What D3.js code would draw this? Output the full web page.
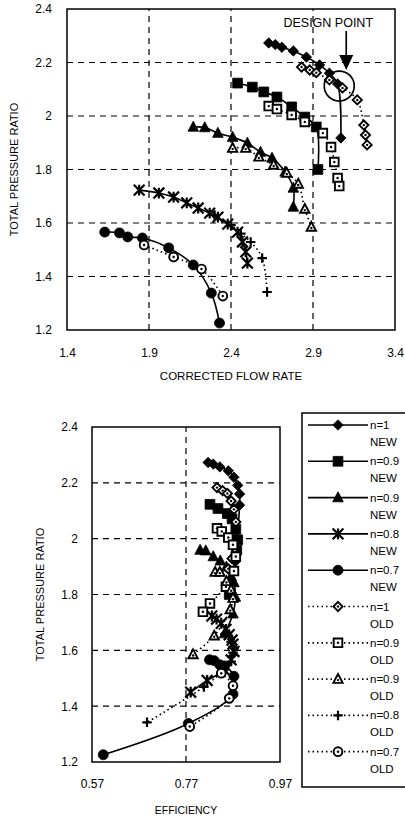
<!DOCTYPE html>
<html>
<head>
<meta charset="utf-8">
<script src="https://cdn.jsdelivr.net/npm/d3@7"></script>
<style>
  body { margin: 0; background: #fff; }
  svg { display: block; font-family: "Liberation Sans", Arial, sans-serif; }
</style>
</head>
<body>
<div id="chart"></div>
<script>
// data //
const n1NewFlow = [2.63, 2.67, 2.71, 2.78, 2.86, 2.94, 3.00, 3.05, 3.07]
const n1NewPR = [2.273, 2.267, 2.257, 2.243, 2.220, 2.191, 2.160, 2.120, 1.918]
const n1NewEff = [0.817, 0.828, 0.842, 0.860, 0.872, 0.880, 0.884, 0.884, 0.875]

const n09NewFlow = [2.44, 2.53, 2.60, 2.68, 2.77, 2.85, 2.92, 2.93]
const n09NewPR = [2.123, 2.108, 2.090, 2.071, 2.034, 1.996, 1.959, 1.800]
const n09NewEff = [0.821, 0.838, 0.858, 0.868, 0.876, 0.880, 0.878, 0.862]

const n085NewFlow = [2.17, 2.24, 2.32, 2.41, 2.50, 2.58, 2.65, 2.73, 2.78, 2.78]
const n085NewPR = [1.959, 1.957, 1.936, 1.921, 1.899, 1.865, 1.843, 1.791, 1.731, 1.660]
const n085NewEff = [0.800, 0.812, 0.828, 0.843, 0.856, 0.866, 0.872, 0.875, 0.870, 0.852]

const n08NewFlow = [1.84, 1.96, 2.05, 2.13, 2.20, 2.27, 2.32, 2.38, 2.44, 2.47, 2.49, 2.50]
const n08NewPR = [1.723, 1.712, 1.697, 1.675, 1.656, 1.637, 1.622, 1.596, 1.566, 1.529, 1.492, 1.450]
const n08NewEff = [0.825, 0.835, 0.845, 0.855, 0.862, 0.868, 0.870, 0.872, 0.866, 0.852, 0.815, 0.780]

const n07NewFlow = [1.63, 1.72, 1.77, 1.86, 2.02, 2.17, 2.28, 2.33]
const n07NewPR = [1.566, 1.563, 1.548, 1.544, 1.507, 1.443, 1.338, 1.226]
const n07NewEff = [0.820, 0.830, 0.842, 0.852, 0.872, 0.870, 0.775, 0.594]

const n1OldFlow = [2.83, 2.88, 2.92, 3.00, 3.08, 3.17, 3.21, 3.22, 3.23]
const n1OldPR = [2.183, 2.172, 2.162, 2.135, 2.105, 2.060, 1.966, 1.929, 1.892]
const n1OldEff = [0.836, 0.848, 0.858, 0.866, 0.872, 0.876, 0.874, 0.868, 0.860]

const n09OldFlow = [2.63, 2.68, 2.77, 2.85, 2.96, 3.01, 3.03, 3.05, 3.06]
const n09OldPR = [2.037, 2.026, 2.004, 1.978, 1.936, 1.884, 1.828, 1.768, 1.738]
const n09OldEff = [0.836, 0.846, 0.860, 0.870, 0.876, 0.872, 0.855, 0.821, 0.806]

const n085OldFlow = [2.41, 2.49, 2.57, 2.66, 2.74, 2.81, 2.85, 2.89]
const n085OldPR = [1.880, 1.880, 1.847, 1.817, 1.787, 1.746, 1.652, 1.585]
const n085OldEff = [0.832, 0.842, 0.856, 0.866, 0.870, 0.864, 0.830, 0.785]

const n08OldFlow = [2.30, 2.40, 2.46, 2.52, 2.59, 2.62]
const n08OldPR = [1.630, 1.592, 1.560, 1.529, 1.469, 1.342]
const n08OldEff = [0.866, 0.870, 0.866, 0.850, 0.808, 0.687]

const n07OldFlow = [1.87, 2.05, 2.22, 2.35]
const n07OldPR = [1.518, 1.473, 1.428, 1.327]
const n07OldEff = [0.845, 0.870, 0.862, 0.778]

const legendLabels = ['n=1', 'n=0.9', 'n=0.9', 'n=0.8', 'n=0.7', 'n=1', 'n=0.9', 'n=0.9', 'n=0.8', 'n=0.7']
const legendKinds = ['NEW', 'NEW', 'NEW', 'NEW', 'NEW', 'OLD', 'OLD', 'OLD', 'OLD', 'OLD']

const flowTicks = [1.4, 1.9, 2.4, 2.9, 3.4]
const effTicks = [0.57, 0.77, 0.97]
const prTicks = [1.2, 1.4, 1.6, 1.8, 2, 2.2, 2.4]
const designPoint = [3.06, 2.112]

// series table //
const zip = (a, b) => a.map((v, i) => [v, b[i]])
const series = [
  { flow: n1NewFlow, pr: n1NewPR, eff: n1NewEff, shape: 'diamond', open: false },
  { flow: n09NewFlow, pr: n09NewPR, eff: n09NewEff, shape: 'square', open: false },
  { flow: n085NewFlow, pr: n085NewPR, eff: n085NewEff, shape: 'triangle', open: false },
  { flow: n08NewFlow, pr: n08NewPR, eff: n08NewEff, shape: 'star', open: false },
  { flow: n07NewFlow, pr: n07NewPR, eff: n07NewEff, shape: 'circle', open: false },
  { flow: n1OldFlow, pr: n1OldPR, eff: n1OldEff, shape: 'diamond', open: true },
  { flow: n09OldFlow, pr: n09OldPR, eff: n09OldEff, shape: 'square', open: true },
  { flow: n085OldFlow, pr: n085OldPR, eff: n085OldEff, shape: 'triangle', open: true },
  { flow: n08OldFlow, pr: n08OldPR, eff: n08OldEff, shape: 'plus', open: true },
  { flow: n07OldFlow, pr: n07OldPR, eff: n07OldEff, shape: 'circle', open: true }
]

const width = 405
const height = 817
const svg = d3.select('#chart').append('svg')
  .attr('width', width)
  .attr('height', height)

// marker paths, s = half size
const markerPath = (shape, s) => {
  if (shape === 'diamond') return `M0,${-s}L${s},0L0,${s}L${-s},0Z`
  if (shape === 'square') return `M${-s},${-s}H${s}V${s}H${-s}Z`
  if (shape === 'triangle') return `M0,${-s * 1.1}L${s},${s * 0.8}L${-s},${s * 0.8}Z`
  if (shape === 'circle') return d3.arc()({ innerRadius: 0, outerRadius: s, startAngle: 0, endAngle: 2 * Math.PI })
  if (shape === 'star') return `M${-s},${-s}L${s},${s}M${-s},${s}L${s},${-s}M0,${-s}V${s}`
  if (shape === 'plus') return `M${-s},0H${s}M0,${-s}V${s}`
}

const drawMarker = (g, shape, open, x, y) => {
  const sizes = { diamond: 5.2, square: 4.9, triangle: 5.3, circle: 5, star: 5.4, plus: 5.4 }
  const s = open ? sizes[shape] * 0.88 : sizes[shape]
  const lineShape = shape === 'star' || shape === 'plus'
  g.append('path')
    .attr('transform', `translate(${x},${y})`)
    .attr('d', markerPath(shape, s))
    .attr('fill', lineShape ? 'none' : (open ? '#fff' : '#000'))
    .attr('stroke', '#000')
    .attr('stroke-width', lineShape ? 2.2 : (open ? 1.9 : 0.8))
  if (open && !lineShape) {
    g.append('circle')
      .attr('cx', x).attr('cy', y + (shape === 'triangle' ? 1 : 0))
      .attr('r', 1.2)
      .attr('fill', '#000')
  }
}

const drawPanel = (opts) => {
  const { xScale, yScale, xTicks, xGrid, yGrid, xKey, xTitle, xTitleY, yTitleX, xPad, yPad } = opts
  const [x0, x1] = xScale.range()
  const [y0, y1] = yScale.range()
  const g = svg.append('g')

  // grid
  g.selectAll('.gx').data(xGrid).enter().append('line')
    .attr('x1', d => xScale(d)).attr('x2', d => xScale(d))
    .attr('y1', y0).attr('y2', y1)
    .attr('stroke', '#000').attr('stroke-width', 1.2).attr('stroke-dasharray', '6,5')
  g.selectAll('.gy').data(yGrid).enter().append('line')
    .attr('x1', x0).attr('x2', x1)
    .attr('y1', d => yScale(d)).attr('y2', d => yScale(d))
    .attr('stroke', '#000').attr('stroke-width', 1.2).attr('stroke-dasharray', '6,5')

  // frame
  g.append('rect')
    .attr('x', x0).attr('y', y1)
    .attr('width', x1 - x0).attr('height', y0 - y1)
    .attr('fill', 'none').attr('stroke', '#000').attr('stroke-width', 1.5)

  // axes
  const ax = g.append('g')
    .attr('transform', `translate(0,${y0})`)
    .call(d3.axisBottom(xScale).tickValues(xTicks).tickSize(0).tickPadding(xPad).tickFormat(d => String(d)))
  const ay = g.append('g')
    .attr('transform', `translate(${x0},0)`)
    .call(d3.axisLeft(yScale).tickValues(prTicks).tickSize(0).tickPadding(yPad).tickFormat(d => String(d)))
  ;[ax, ay].forEach(a => {
    a.select('.domain').remove()
    a.selectAll('text').attr('font-size', 12).attr('fill', '#000')
      .attr('font-family', '"Liberation Sans", Arial, sans-serif')
  })

  g.append('text')
    .attr('x', (x0 + x1) / 2).attr('y', xTitleY)
    .attr('text-anchor', 'middle')
    .attr('font-size', opts.xTitleSize)
    .text(xTitle)
  g.append('text')
    .attr('transform', `translate(${yTitleX},${(y0 + y1) / 2}) rotate(-90)`)
    .attr('text-anchor', 'middle')
    .attr('font-size', 11)
    .text('TOTAL PRESSURE RATIO')

  // series
  const line = d3.line()
    .x(d => xScale(d[0]))
    .y(d => yScale(d[1]))
    .curve(d3.curveCatmullRom.alpha(0.5))

  series.forEach(s => {
    const pts = zip(s[xKey], s.pr)
    g.append('path')
      .attr('d', line(pts))
      .attr('fill', 'none')
      .attr('stroke', '#000')
      .attr('stroke-width', s.open ? 1.7 : 1.6)
      .attr('stroke-dasharray', s.open ? '1.5,3' : null)
  })
  series.forEach(s => {
    zip(s[xKey], s.pr).forEach(p => drawMarker(g, s.shape, s.open, xScale(p[0]), yScale(p[1])))
  })
  return g
}

// top panel
const xFlow = d3.scaleLinear().domain([1.4, 3.4]).range([67, 395])
const yTop = d3.scaleLinear().domain([1.2, 2.4]).range([330, 9])
const topPanel = drawPanel({
  xScale: xFlow, yScale: yTop, xTicks: flowTicks,
  xGrid: [1.9, 2.4, 2.9], yGrid: [1.4, 1.6, 1.8, 2, 2.2],
  xKey: 'flow', xTitle: 'CORRECTED FLOW RATE', xTitleY: 380, xTitleSize: 11.5,
  yTitleX: 18, xPad: 18, yPad: 15
})

// design point annotation
const cx = xFlow(designPoint[0])
const cy = yTop(designPoint[1])
topPanel.append('circle')
  .attr('cx', cx).attr('cy', cy).attr('r', 15)
  .attr('fill', 'none').attr('stroke', '#000').attr('stroke-width', 1.7)
topPanel.append('line')
  .attr('x1', cx + 7).attr('x2', cx + 7)
  .attr('y1', cy - 55).attr('y2', cy - 30)
  .attr('stroke', '#000').attr('stroke-width', 1.7)
topPanel.append('path')
  .attr('d', `M${cx},${cy - 31}L${cx + 14},${cy - 31}L${cx + 7},${cy - 16}Z`)
  .attr('fill', '#000')
topPanel.append('text')
  .attr('x', cx - 11).attr('y', cy - 59)
  .attr('text-anchor', 'middle')
  .attr('font-size', 12.5)
  .text('DESIGN POINT')

// bottom panel
const xEff = d3.scaleLinear().domain([0.57, 0.97]).range([92, 280])
const yBot = d3.scaleLinear().domain([1.2, 2.4]).range([762, 427])
drawPanel({
  xScale: xEff, yScale: yBot, xTicks: effTicks,
  xGrid: [0.77], yGrid: [1.4, 1.6, 1.8, 2, 2.2],
  xKey: 'eff', xTitle: 'EFFICIENCY', xTitleY: 814, xTitleSize: 10.5,
  yTitleX: 44, xPad: 17, yPad: 14
})

// legend
const legend = svg.append('g').attr('id', 'legend')
const legendTop = 413
const rowStep = 36.3
legend.append('rect')
  .attr('x', 302).attr('y', legendTop)
  .attr('width', 120).attr('height', 374)
  .attr('fill', '#fff').attr('stroke', '#000').attr('stroke-width', 1.5)

series.forEach((s, i) => {
  const y = legendTop + 12 + i * rowStep
  legend.append('line')
    .attr('x1', 308).attr('x2', 368)
    .attr('y1', y).attr('y2', y)
    .attr('stroke', '#000')
    .attr('stroke-width', s.open ? 1.7 : 1.6)
    .attr('stroke-dasharray', s.open ? '1.5,3' : null)
  drawMarker(legend, s.shape, s.open, 338, y)
  legend.append('text')
    .attr('x', 370).attr('y', y + 4)
    .attr('font-size', 11.5)
    .text(legendLabels[i])
  legend.append('text')
    .attr('x', 370).attr('y', y + 21)
    .attr('font-size', 11.5)
    .text(legendKinds[i])
})
</script>
</body>
</html>
